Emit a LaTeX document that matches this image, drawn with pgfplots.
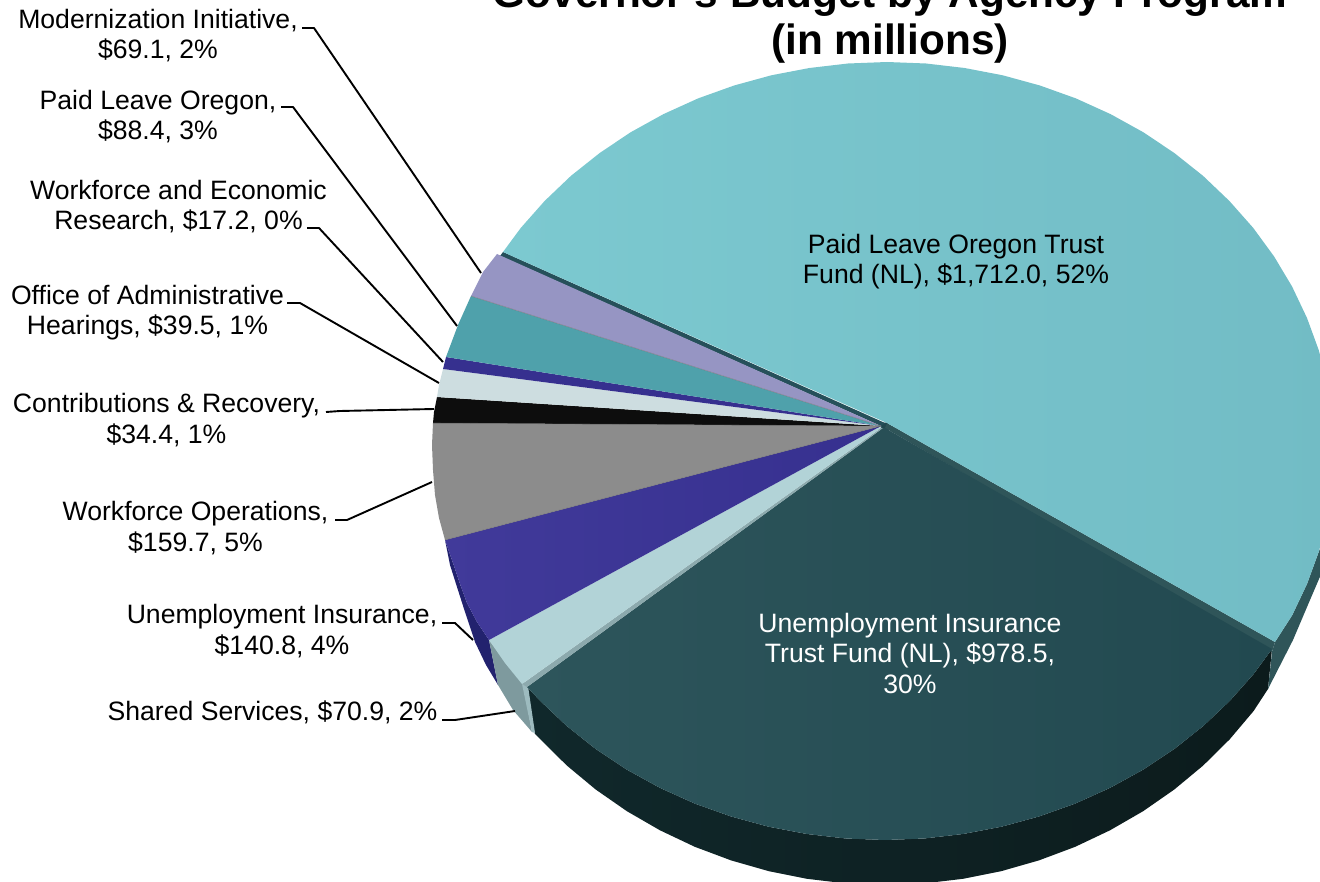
\documentclass[border=0pt]{standalone}
\usepackage{pgfplots}
\pgfplotsset{compat=1.18}
\usepackage{fontspec}
\setmainfont{Liberation Sans}

\definecolor{trustL}{HTML}{7CC9D0}
\definecolor{trustR}{HTML}{72BCC5}
\definecolor{trustSide}{HTML}{2F5559}
\definecolor{trustCut}{HTML}{26505A}
\definecolor{uiL}{HTML}{2D555B}
\definecolor{uiR}{HTML}{224950}
\definecolor{uiSideL}{HTML}{10282B}
\definecolor{uiSideR}{HTML}{0C1B1C}
\definecolor{sharedTop}{HTML}{B2D3D7}
\definecolor{sharedEdge}{HTML}{8CA9AD}
\definecolor{sharedSide}{HTML}{7E9A9E}
\definecolor{sharedCut}{HTML}{9DBBBF}
\definecolor{uiOpsL}{HTML}{413A9A}
\definecolor{uiOpsR}{HTML}{36308F}
\definecolor{uiOpsSide}{HTML}{22226E}
\definecolor{opsGray}{HTML}{8C8C8C}
\definecolor{contrib}{HTML}{0D0D0D}
\definecolor{oahLight}{HTML}{CDDDE0}
\definecolor{researchBlue}{HTML}{36308F}
\definecolor{paidGreen}{HTML}{4FA1AB}
\definecolor{modernPurple}{HTML}{9695C3}

\newcommand{\labelfont}{\fontsize{26.6}{30.5}\selectfont}
\tikzset{
  leader/.style={black, line width=1.9pt, line join=round},
  callout/.style={align=center, anchor=base, font=\labelfont, inner sep=0pt},
}

\begin{document}
\begin{tikzpicture}
\begin{axis}[
  name=pie,
  scale only axis,
  width=1320pt, height=882pt,
  xmin=0, xmax=1320, ymin=0, ymax=882,
  y dir=reverse,
  hide axis,
  clip=true,
  every axis plot/.append style={forget plot},
]

% Outer wall of the Unemployment Insurance Trust Fund slice
\addplot[draw=none, left color=uiSideL, right color=uiSideR] coordinates {
 (527,687) (540.3,701) (566.8,726.1) (595.7,749) (626.9,769.7) (660,787.9) (694.8,803.6)
 (731.1,816.5) (768.5,826.7) (806.9,834) (845.8,838.5) (885,840) (924.2,838.5) (963.1,834)
 (1001.5,826.7) (1038.9,816.5) (1075.2,803.6) (1110,787.9) (1143.1,769.7) (1174.3,749)
 (1203.2,726.1) (1229.7,701) (1253.6,674.1) (1272,649) (1268,689)
 (1253.6,711) (1229.7,739.3) (1203.2,765.5) (1174.3,789.5) (1143.1,811.2) (1110,830.3)
 (1075.2,846.8) (1038.9,860.4) (1001.5,871.1) (963.1,878.8) (924.2,883.4) (885,885)
 (845.8,883.4) (806.9,878.8) (768.5,871.1) (731.1,860.4) (694.8,846.8) (660,830.3)
 (626.9,811.2) (595.7,789.5) (566.8,765.5) (540.3,739.3) (534.8,733.8)
};

% Outer wall of the Paid Leave Oregon Trust Fund slice
\addplot[draw=none, fill=trustSide] coordinates {
 (1340,500) (1318.8,551.7) (1307,584) (1292.1,615.4) (1275,642) (1272,652) (1268,689)
 (1293,640) (1310,600) (1325,565) (1340,530)
};

% Walls of the two small slices at the front left
\addplot[draw=none, fill=uiOpsSide] coordinates {
 (445,540) (453,563) (460,584) (467,603) (477,622) (489,640) (498,685)
 (486,665) (475,642) (465,612) (457,587) (450,565)
};
\addplot[draw=none, fill=sharedSide] coordinates {
 (489,640) (523,684) (532,732) (513,710) (498,685)
};
\addplot[draw=none, fill=sharedCut] coordinates {
 (522,684) (528,686) (535,733) (532,732)
};

% Cut faces beside the large slice, meeting at the hub
\addplot[draw=none, fill=uiR] coordinates {(878,424) (888,422) (888,430) (878,430)};
\addplot[draw=none, fill=trustCut] coordinates {(503,252) (885,423) (881,426) (500,256)};
\addplot[draw=none, fill=trustSide] coordinates {(887,423) (1275,642) (1272,652) (885,428)};

% Top faces
\addplot[draw=none, left color=trustL, right color=trustR] coordinates {
 (503,252) (520.8,227.9) (544.6,201) (570.9,175.9) (599.7,153) (630.6,132.3) (663.5,114.1)
 (698.1,98.4) (734.1,85.5) (771.3,75.3) (809.4,68) (848,63.5) (887,62) (926,63.5) (964.6,68)
 (1002.7,75.3) (1039.9,85.5) (1075.9,98.4) (1110.5,114.1) (1143.4,132.3) (1174.3,153)
 (1203.1,175.9) (1229.4,201) (1253.2,227.9) (1274.1,256.5) (1292.1,286.6) (1307,318)
 (1318.8,350.3) (1327.2,383.4) (1332.3,417.1) (1334,451) (1332.3,484.9) (1327.2,518.6)
 (1318.8,551.7) (1307,584) (1292.1,615.4) (1275,642) (887,423)
};
\addplot[draw=none, left color=uiL, right color=uiR] coordinates {
 (885,428) (1272,649) (1253.6,674.1) (1229.7,701) (1203.2,726.1) (1174.3,749) (1143.1,769.7)
 (1110,787.9) (1075.2,803.6) (1038.9,816.5) (1001.5,826.7) (963.1,834) (924.2,838.5) (885,840)
 (845.8,838.5) (806.9,834) (768.5,826.7) (731.1,816.5) (694.8,803.6) (660,787.9) (626.9,769.7)
 (595.7,749) (566.8,726.1) (540.3,701) (527,687) (883,428)
};
\addplot[draw=none, fill=sharedEdge] coordinates {(881,428) (522,684) (527,687) (883,428)};
\addplot[draw=none, fill=sharedTop] coordinates {(881,426) (489,640) (505,663) (522,684) (881,428)};
\addplot[draw=none, left color=uiOpsL, right color=uiOpsR] coordinates {
 (881,426) (445,540) (453,563) (460,584) (467,603) (477,622) (489,640)
};
\addplot[draw=none, fill=opsGray] coordinates {
 (881,426) (433,423) (432,445) (433,470) (435,495) (439,518) (445,540)
};
\addplot[draw=none, fill=contrib] coordinates {(881,426) (437,397) (434,412) (433,423)};
\addplot[draw=none, fill=oahLight] coordinates {(881,426) (443,369) (439,385) (437,397)};
\addplot[draw=none, fill=researchBlue] coordinates {(881,426) (446,357) (443,369)};
\addplot[draw=none, fill=paidGreen] coordinates {(881,426) (471,296) (458,325) (446,357)};
\addplot[draw=none, fill=modernPurple] coordinates {(881,426) (497,254) (483,272) (471,296)};

% Fine seams between neighbouring slices
\addplot[color=black!55, line width=0.6pt, opacity=0.6] coordinates {(471,296) (881,426)};
\addplot[color=black!60, line width=0.6pt, opacity=0.5] coordinates {(445,540) (881,426)};
\addplot[color=black!60, line width=0.6pt, opacity=0.5] coordinates {(433,423) (881,426)};

% Leader lines
\addplot[leader] coordinates {(302,28) (314,28) (481,273)};
\addplot[leader] coordinates {(281,107) (293,107) (457,326)};
\addplot[leader] coordinates {(307,228) (319,228) (443,362)};
\addplot[leader] coordinates {(287,303) (300,303) (439,383)};
\addplot[leader] coordinates {(326,412) (340,411) (434,409)};
\addplot[leader] coordinates {(335,520) (347,520) (432,482)};
\addplot[leader] coordinates {(442,623) (455,623) (473,640)};
\addplot[leader] coordinates {(442,720) (455,720) (515,711)};

% Slice callouts
\node[callout] at (axis cs:158,59) {Modernization Initiative,\\\$69.1, 2\%};
\node[callout] at (axis cs:158,140) {Paid Leave Oregon,\\\$88.4, 3\%};
\node[callout] at (axis cs:178.5,230) {Workforce and Economic\\Research, \$17.2, 0\%};
\node[callout] at (axis cs:147.5,335) {Office of Administrative\\Hearings, \$39.5, 1\%};
\node[callout] at (axis cs:166.5,443) {Contributions \& Recovery,\\\$34.4, 1\%};
\node[callout] at (axis cs:195.5,551) {Workforce Operations,\\\$159.7, 5\%};
\node[callout] at (axis cs:282,654) {Unemployment Insurance,\\\$140.8, 4\%};
\node[callout] at (axis cs:272.5,720.5) {Shared Services, \$70.9, 2\%};
\node[callout] at (axis cs:956,284) {Paid Leave Oregon Trust\\Fund (NL), \$1,712.0, 52\%};
\node[callout, text=white] at (axis cs:910,693) {Unemployment Insurance\\Trust Fund (NL), \$978.5,\\30\%};

% Chart title, its first line running off the top edge
\node[align=center, anchor=base, inner sep=0pt, font=\fontsize{42.3}{47}\selectfont\bfseries]
  at (axis cs:890,55) {Governor's Budget by Agency Program\\(in millions)};
\end{axis}
\pgfresetboundingbox
\path[use as bounding box] (pie.south west) rectangle (pie.north east);
\end{tikzpicture}
\end{document}
